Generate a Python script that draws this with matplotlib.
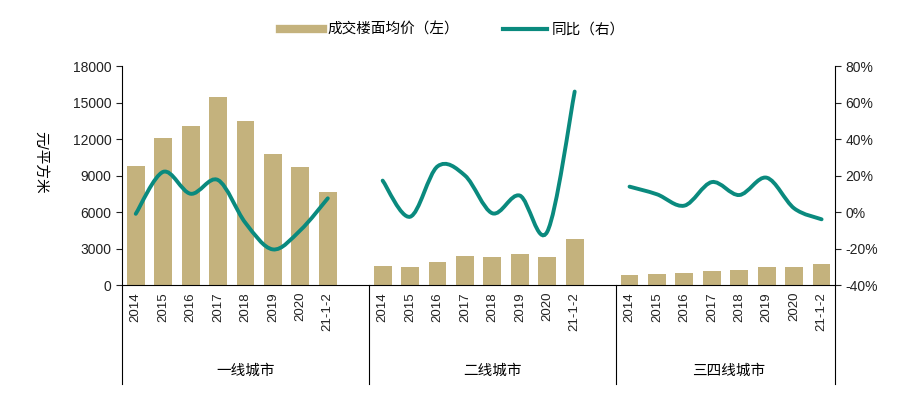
import matplotlib.pyplot as plt
import numpy as np
from matplotlib.path import Path
from matplotlib.patches import PathPatch
from matplotlib.lines import Line2D
from matplotlib.ticker import FuncFormatter

plt.rcParams['font.family'] = ['Liberation Sans', 'Noto Sans CJK SC', 'DejaVu Sans']
plt.rcParams['axes.unicode_minus'] = False

# 数据
groups = ['一线城市', '二线城市', '三四线城市']
years = ['2014', '2015', '2016', '2017', '2018', '2019', '2020', '21-1-2']
price_1 = [9800, 12050, 13100, 15480, 13500, 10740, 9700, 7620]
price_2 = [1560, 1500, 1920, 2380, 2330, 2550, 2300, 3800]
price_3 = [800, 880, 950, 1150, 1230, 1450, 1480, 1700]
yoy_1 = [-0.01, 0.22, 0.10, 0.175, -0.06, -0.205, -0.10, 0.075]
yoy_2 = [0.172, -0.026, 0.25, 0.20, -0.007, 0.09, -0.108, 0.66]
yoy_3 = [0.139, 0.097, 0.035, 0.164, 0.093, 0.188, 0.02, -0.04]

bar_color = '#C4B27D'
line_color = '#0A8A7E'


def smooth_path(xs, ys):
    # 平滑曲线（类似 Excel 平滑线）
    pts = np.column_stack([xs, ys])
    verts = [pts[0]]
    codes = [Path.MOVETO]
    n = len(pts)
    for i in range(n - 1):
        p0 = pts[max(i - 1, 0)]
        p1 = pts[i]
        p2 = pts[i + 1]
        p3 = pts[min(i + 2, n - 1)]
        c1 = p1 + (p2 - p0) / 6
        c2 = p2 - (p3 - p1) / 6
        verts += [c1, c2, p2]
        codes += [Path.CURVE4] * 3
    return Path(verts, codes)


fig = plt.figure(figsize=(9.04, 3.96), dpi=100)
ax = fig.add_axes([0.135, 0.2803, 0.789, 0.553])
ax2 = ax.twinx()

prices = [price_1, price_2, price_3]
yoys = [yoy_1, yoy_2, yoy_3]
ticks, labels = [], []
for g in range(3):
    x = np.arange(8) + g * 9
    ax.bar(x, prices[g], width=0.65, color=bar_color, zorder=2)
    ax2.add_patch(PathPatch(smooth_path(x, yoys[g]), fill=False,
                            edgecolor=line_color, lw=2.8, capstyle='round', zorder=3))
    ticks += list(x)
    labels += years

ax.set_xlim(-0.5, 25.5)
ax.set_ylim(0, 18000)
ax.set_yticks(np.arange(0, 18001, 3000))
ax2.set_ylim(-0.4, 0.8)
ax2.set_yticks(np.arange(-0.4, 0.81, 0.2))
ax2.yaxis.set_major_formatter(FuncFormatter(lambda v, p: '%d%%' % round(v * 100)))

ax.set_xticks(ticks)
ax.set_xticklabels(labels, rotation=90, fontsize=9.5, color='#222222')
ax.tick_params(axis='x', length=0, pad=5)
ax.tick_params(axis='y', labelsize=10, length=4, width=0.8, colors='#222222')
ax2.tick_params(axis='y', labelsize=10, length=4, width=0.8, colors='#222222')
ax.set_ylabel('元/平方米', fontsize=10.5, rotation=-90, va='center', ha='center')
ax.yaxis.set_label_coords(-0.115, 0.56)

for a in (ax, ax2):
    a.spines['top'].set_visible(False)
    for s in ('left', 'right', 'bottom'):
        a.spines[s].set_linewidth(0.8)
ax.spines['right'].set_visible(False)
ax2.spines['left'].set_visible(False)
ax2.spines['bottom'].set_visible(False)

# 分组分隔线及分组标签
trans = ax.get_xaxis_transform()
for xd in [-0.5, 8.5, 17.5, 25.5]:
    ax.plot([xd, xd], [0, -0.45], transform=trans, color='black', lw=0.8, clip_on=False)
for g, name in enumerate(groups):
    xc = 4 + g * 9 if g < 2 else 21.6
    ax.text(xc, -0.39, name, transform=trans, ha='center', va='center', fontsize=10.5)

handles = [Line2D([], [], color=bar_color, lw=6),
           Line2D([], [], color=line_color, lw=3)]
fig.legend(handles, ['成交楼面均价（左）', '同比（右）'], loc='center',
           bbox_to_anchor=(0.5, 0.925), ncol=2, frameon=False, fontsize=10.5,
           handlelength=3, columnspacing=3, handletextpad=0.3)

fig.savefig('out.png', dpi=100)
